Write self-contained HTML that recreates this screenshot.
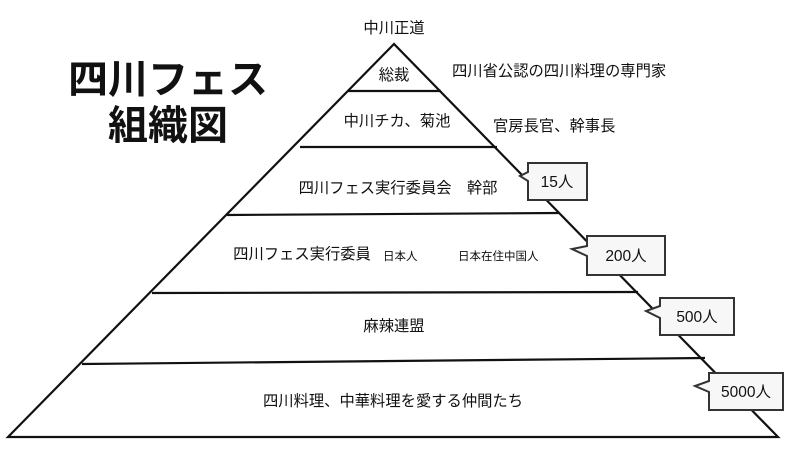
<!DOCTYPE html>
<html><head><meta charset="utf-8"><style>
html,body{margin:0;padding:0;background:#fff;}
svg{display:block;}
text{font-family:"Liberation Sans","Noto Sans CJK JP",sans-serif;fill:#111;}
</style></head><body>
<svg width="800" height="450" viewBox="0 0 800 450">
<g stroke="#111" stroke-width="2.2" fill="none">
<polygon points="394,44 8,437 778,437" fill="#fff"/>
<line x1="348" y1="91" x2="441" y2="91"/>
<line x1="300" y1="147" x2="497" y2="147"/>
<line x1="227" y1="215" x2="559" y2="213"/>
<line x1="152" y1="293" x2="638" y2="292"/>
<line x1="82" y1="364" x2="705" y2="358"/>
</g>
<g stroke="#333" stroke-width="2" fill="#f7f7f7">
<path d="M528,163 H587 V200 H528 V181 L520,176 L528,172 Z"/>
<path d="M587,236 H665 V275 H587 V256 L572,249 L587,246 Z"/>
<path d="M660,298 H734 V335 H660 V318 L646,311 L660,306 Z"/>
<path d="M709,373 H783 V410 H709 V392 L695,386 L709,381 Z"/>
</g>
<g font-size="15.5">
<text x="557" y="187" text-anchor="middle">15人</text>
<text x="626" y="261" text-anchor="middle">200人</text>
<text x="697" y="322" text-anchor="middle">500人</text>
<text x="746" y="397" text-anchor="middle">5000人</text>
</g>
<g font-size="15.3" text-anchor="middle">
<text x="394" y="33">中川正道</text>
<text x="394" y="80">総裁</text>
<text x="397" y="126">中川チカ、菊池</text>
<text x="398" y="193">四川フェス実行委員会　幹部</text>
<text x="302" y="259">四川フェス実行委員</text>
<text x="394" y="331">麻辣連盟</text>
<text x="393" y="406">四川料理、中華料理を愛する仲間たち</text>
</g>
<g font-size="15.3">
<text x="452" y="76">四川省公認の四川料理の専門家</text>
<text x="493" y="131">官房長官、幹事長</text>
</g>
<g font-size="11.5">
<text x="383" y="260">日本人</text>
<text x="458" y="260">日本在住中国人</text>
</g>
<g font-size="40" font-weight="bold" text-anchor="middle">
<text x="168" y="93">四川フェス</text>
<text x="168" y="139">組織図</text>
</g>
</svg>
</body></html>
